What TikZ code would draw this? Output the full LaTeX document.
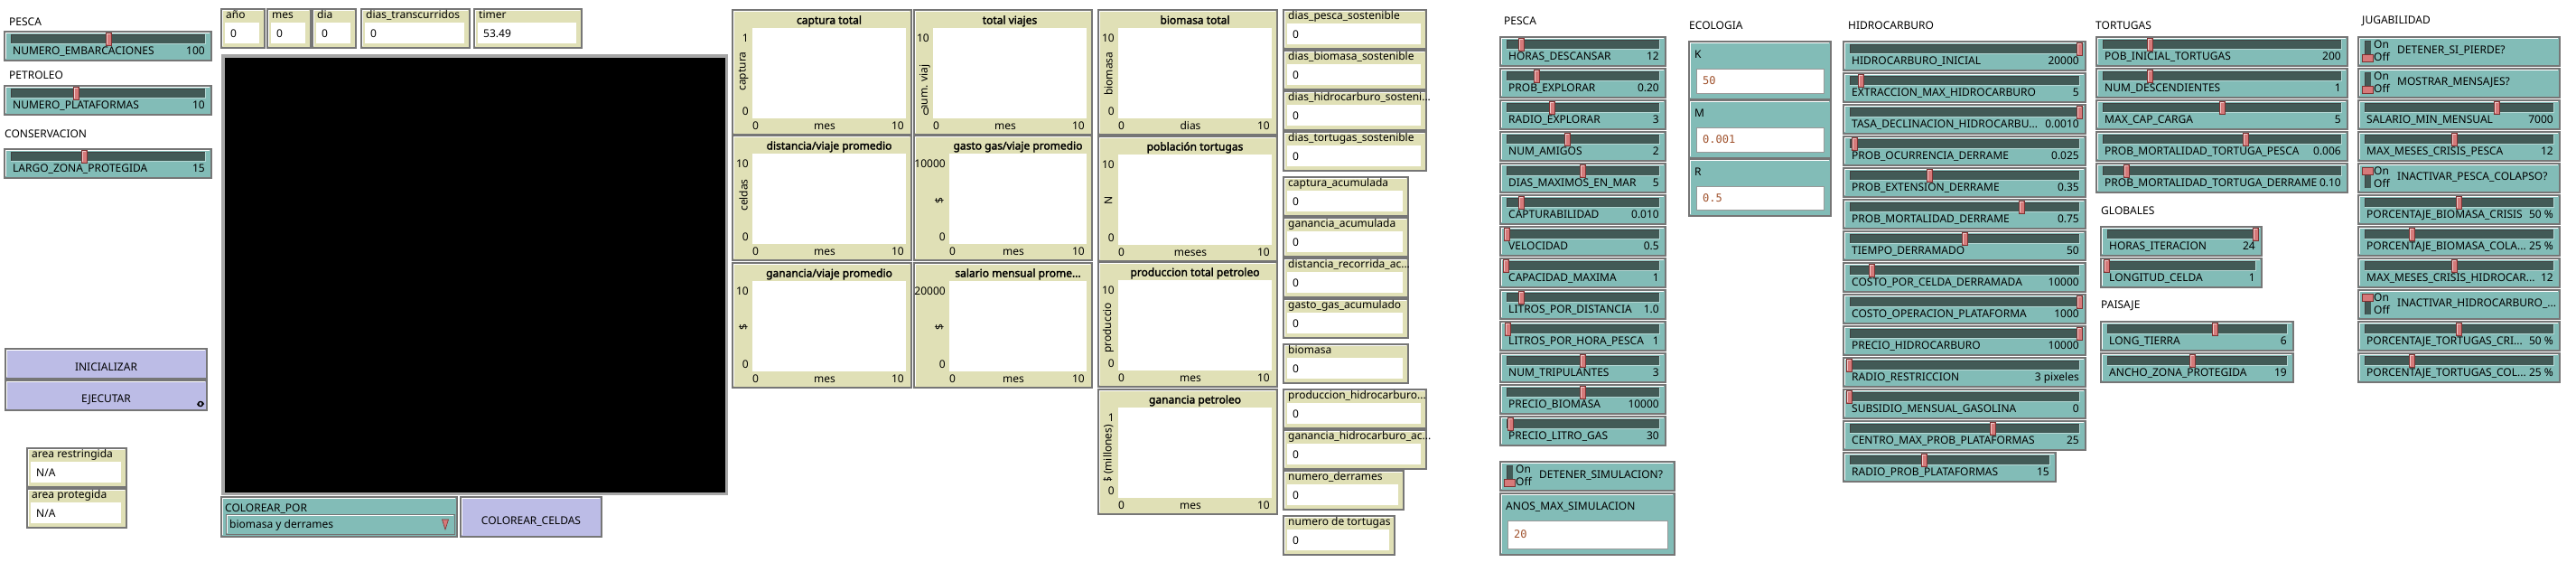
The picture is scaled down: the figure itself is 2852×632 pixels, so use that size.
\documentclass[tikz,border=0pt]{standalone}
\usepackage{fontspec}
\setmainfont{Noto Sans}
\newfontfamily\ttlf{Noto Sans}[FakeBold=2.2]
\newfontfamily\monof{DejaVu Sans Mono}
\usetikzlibrary{calc}
\definecolor{tealw}{RGB}{130,188,183}
\definecolor{trackc}{RGB}{66,90,86}
\definecolor{thumbc}{RGB}{214,122,122}
\definecolor{thumbd}{RGB}{125,50,50}
\definecolor{beige}{RGB}{224,224,182}
\definecolor{lav}{RGB}{188,188,230}
\definecolor{bord}{RGB}{118,118,118}
\definecolor{inval}{RGB}{160,82,45}
\tikzset{
  txt/.style={inner sep=0pt, font=\fontsize{12}{14}\selectfont, text=black},
  ttl/.style={inner sep=0pt, font=\fontsize{12}{14}\selectfont\ttlf, text=black},
  monotxt/.style={inner sep=0pt, font=\fontsize{12}{14}\selectfont\monof, text=inval},
}
% bevelled widget box
\newcommand\bevbox[5]{%
  \fill[#5] (#1,#2) rectangle (#3,#4);
  \draw[white, line width=1pt] (#1+1.6,#4-1.6) -- (#1+1.6,#2+1.6) -- (#3-1.6,#2+1.6);
  \draw[bord, line width=1.2pt] (#1,#2) rectangle (#3,#4);
}
% slider: x1 y1 x2 thumbx label value
\newcommand\slid[6]{%
  \bevbox{#1}{#2}{#3}{#2+32}{tealw}
  \fill[trackc] (#1+7,#2+3) rectangle (#3-7,#2+13);
  \draw[black!75, line width=0.8pt] (#1+7,#2+13) -- (#1+7,#2+3) -- (#3-7,#2+3);
  \draw[tealw!60!white, line width=0.6pt] (#1+7,#2+13) -- (#3-7,#2+13) -- (#3-7,#2+3);
  \filldraw[fill=thumbc, draw=thumbd, line width=0.7pt] (#4-3,#2+1) rectangle (#4+3,#2+15);
  \draw[white!60!thumbc, line width=0.6pt] (#4-2,#2+14) -- (#4-2,#2+2) -- (#4+2,#2+2);
  \node[txt, anchor=base west] at (#1+9,#2+25) {#5};
  \node[txt, anchor=base east] at (#3-7,#2+25) {#6};
}
% switch: x1 y1 x2 label on(1)/off(0)
\newcommand\swi[5]{%
  \bevbox{#1}{#2}{#3}{#2+32}{tealw}
  \fill[trackc] (#1+7,#2+4) rectangle (#1+14,#2+27);
  \draw[black!75, line width=0.7pt] (#1+7,#2+27) -- (#1+7,#2+4) -- (#1+14,#2+4);
  \ifnum#5=1
    \filldraw[fill=thumbc, draw=thumbd, line width=0.7pt] (#1+4,#2+4) rectangle (#1+16,#2+12);
  \else
    \filldraw[fill=thumbc, draw=thumbd, line width=0.7pt] (#1+4,#2+19) rectangle (#1+16,#2+27);
  \fi
  \node[txt, anchor=west] at (#1+17,#2+8.5) {On};
  \node[txt, anchor=west] at (#1+17,#2+22) {Off};
  \node[txt, anchor=base west] at (#1+43,#2+18.5) {#4};
}
% monitor: x1 y1 x2 label value
\newcommand\moni[5]{%
  \bevbox{#1}{#2}{#3}{#2+43}{beige}
  \fill[white] (#1+4,#2+15) rectangle (#3-6,#2+38);
  \node[txt, anchor=base west] at (#1+5,#2+10) {#4};
  \node[txt, anchor=base west] at (#1+10,#2+31) {#5};
}
% input: x1 y1 x2 y2 label value
\newcommand\inp[6]{%
  \bevbox{#1}{#2}{#3}{#4}{tealw}
  \node[txt, anchor=base west] at (#1+6,#2+18) {#5};
  \filldraw[fill=white, draw=black!40, line width=0.8pt] (#1+8,#2+30) rectangle (#3-8,#4-7);
  \node[monotxt, anchor=base west] at (#1+15,{(#2+30+#4-7)/2+4}) {#6};
}
% button: x1 y1 x2 y2 label
\newcommand\btn[5]{%
  \bevbox{#1}{#2}{#3}{#4}{lav}
  \node[txt, anchor=base] at ({(#1+#3)/2},{(#2+#4)/2+8}) {#5};
}
% plot: x1 y1 x2 wl title ymax xname
\newcommand\plt[7]{%
  \bevbox{#1}{#2}{#3}{#2+138}{beige}
  \fill[white] (#4,#2+20) rectangle (#3-6,#2+120);
  \node[ttl, anchor=base] at ({(#4+#3-6)/2},#2+15.5) {#5};
  \node[txt, anchor=east] at (#4-4,#2+31) {#6};
  \node[txt, anchor=east] at (#4-4,#2+112) {0};
  \node[txt, anchor=base west] at (#4,#2+132) {0};
  \node[txt, anchor=base] at ({(#4+#3-6)/2-5},#2+132) {#7};
  \node[txt, anchor=base east] at (#3-8,#2+132) {10};
}
\begin{document}
\begin{tikzpicture}[x=1pt,y=-1pt]
\useasboundingbox (0,0) rectangle (2852,632);
\fill[white] (0,0) rectangle (2852,632);

% ---------------- left column
\node[txt, anchor=west] (hPesca1) at (10,24) {PESCA};
\slid{5}{35}{234}{120}{NUMERO\_EMBARCACIONES}{100}
\node[txt, anchor=west] (hPetro) at (10,83) {PETROLEO};
\slid{5}{95}{234}{84}{NUMERO\_PLATAFORMAS}{10}
\node[txt, anchor=west] (hCons) at (5,148) {CONSERVACION};
\slid{5}{165}{234}{93}{LARGO\_ZONA\_PROTEGIDA}{15}

\btn{6}{386}{229}{419}{INICIALIZAR}
\btn{6}{421}{229}{454}{EJECUTAR}
\draw[line width=1.3pt] (222,447) circle (2.6);
\fill (224.6,444.5) -- (226.2,447.5) -- (223,447.5) -- cycle;
\fill (219.4,449.5) -- (217.8,446.5) -- (221,446.5) -- cycle;

\moni{30}{496}{140}{area restringida}{N/A}
\moni{30}{541}{140}{area protegida}{N/A}

% ---------------- top monitors
\moni{245}{10}{293}{año}{0}
\moni{296}{10}{344}{mes}{0}
\moni{346}{10}{394}{dia}{0}
\moni{400}{10}{520}{dias\_transcurridos}{0}
\moni{525}{10}{644}{timer}{53.49}

% ---------------- world view
\fill[black!35] (245,60) rectangle (806,548);
\fill[black] (249,64) rectangle (803,545);

% chooser and button
\bevbox{245}{550}{506}{594}{tealw}
\node[txt, anchor=base west] (chLab) at (249,566) {COLOREAR\_POR};
\fill[tealw] (250,569) rectangle (503,591);
\draw[white, line width=0.8pt] (251,590) -- (251,570) -- (502,570);
\draw[black!55, line width=1pt] (250,569) rectangle (503,591);
\node[txt, anchor=base west] (chVal) at (254,584) {biomasa y derrames};
\filldraw[fill=thumbc, draw=thumbd, line width=0.6pt] (489.5,575) -- (496.5,575) -- (493,586) -- cycle;
\btn{510}{550}{666}{594}{COLOREAR\_CELDAS}

% ---------------- plots
\plt{811}{11}{1009}{833}{captura total}{1}{mes}
\node[txt, rotate=90] (yl1) at (823,79) {captura};
\plt{1012}{11}{1209}{1033}{total viajes}{10}{mes}
\begin{scope}
  \clip (1012,40) rectangle (1031,119);
  \node[txt, rotate=90, anchor=west] (yl2) at (1024,124) {num. viaj};
\end{scope}
\plt{811}{150}{1009}{833}{distancia/viaje promedio}{10}{mes}
\node[txt, rotate=90] (yl3) at (823,216) {celdas};
\plt{1012}{150}{1209}{1051}{gasto gas/viaje promedio}{10000}{mes}
\node[txt, rotate=90] (yl4) at (1040,222) {\$};
\plt{811}{291}{1009}{833}{ganancia/viaje promedio}{10}{mes}
\node[txt, rotate=90] (yl5) at (823,362) {\$};
\plt{1012}{291}{1209}{1051}{salario mensual prome...}{20000}{mes}
\node[txt, rotate=90] (yl6) at (1040,362) {\$};

\plt{1216}{11}{1414}{1238}{biomasa total}{10}{dias}
\begin{scope}
  \clip (1216,56) rectangle (1236,131);
  \node[txt, rotate=90, anchor=west] (yl7) at (1227,106) {biomasa};
\end{scope}
\plt{1216}{151}{1414}{1238}{población tortugas}{10}{meses}
\node[txt, rotate=90] (yl8) at (1227,222) {N};
\plt{1216}{290}{1414}{1238}{produccion total petroleo}{10}{mes}
\begin{scope}
  \clip (1216,334) rectangle (1236,411);
  \node[txt, rotate=90, anchor=west] (yl9) at (1227,391) {produccion};
\end{scope}
\plt{1216}{431}{1414}{1238}{ganancia petroleo}{1}{mes}
\begin{scope}
  \clip (1216,468) rectangle (1236,531);
  \node[txt, rotate=90, anchor=west] (yl10) at (1227,535) {\$ (millones)};
\end{scope}

% ---------------- monitors column
\moni{1421}{11}{1579}{dias\_pesca\_sostenible}{0}
\moni{1421}{56}{1579}{dias\_biomasa\_sostenible}{0}
\moni{1421}{101}{1579}{dias\_hidrocarburo\_sosteni...}{0}
\moni{1421}{146}{1579}{dias\_tortugas\_sostenible}{0}
\moni{1421}{196}{1559}{captura\_acumulada}{0}
\moni{1421}{241}{1559}{ganancia\_acumulada}{0}
\moni{1421}{286}{1559}{distancia\_recorrida\_ac...}{0}
\moni{1421}{331}{1559}{gasto\_gas\_acumulado}{0}
\moni{1421}{381}{1559}{biomasa}{0}
\moni{1421}{431}{1579}{produccion\_hidrocarburo...}{0}
\moni{1421}{476}{1579}{ganancia\_hidrocarburo\_ac...}{0}
\moni{1421}{521}{1554}{numero\_derrames}{0}
\moni{1421}{571}{1544}{numero de tortugas}{0}

% ---------------- PESCA
\node[txt, anchor=west] (hPesca2) at (1665,23) {PESCA};
\slid{1661}{41}{1844}{1684}{HORAS\_DESCANSAR}{12}
\slid{1661}{76}{1844}{1701}{PROB\_EXPLORAR}{0.20}
\slid{1661}{111}{1844}{1718}{RADIO\_EXPLORAR}{3}
\slid{1661}{146}{1844}{1735}{NUM\_AMIGOS}{2}
\slid{1661}{181}{1844}{1752}{DIAS\_MAXIMOS\_EN\_MAR}{5}
\slid{1661}{216}{1844}{1684}{CAPTURABILIDAD}{0.010}
\slid{1661}{251}{1844}{1668}{VELOCIDAD}{0.5}
\slid{1661}{286}{1844}{1667}{CAPACIDAD\_MAXIMA}{1}
\slid{1661}{321}{1844}{1684}{LITROS\_POR\_DISTANCIA}{1.0}
\slid{1661}{356}{1844}{1669}{LITROS\_POR\_HORA\_PESCA}{1}
\slid{1661}{391}{1844}{1752}{NUM\_TRIPULANTES}{3}
\slid{1661}{426}{1844}{1752}{PRECIO\_BIOMASA}{10000}
\slid{1661}{461}{1844}{1672}{PRECIO\_LITRO\_GAS}{30}
\swi{1661}{511}{1854}{DETENER\_SIMULACION?}{0}
\inp{1661}{546}{1854}{614}{ANOS\_MAX\_SIMULACION}{20}

% ---------------- ECOLOGIA
\node[txt, anchor=west] (hEco) at (1870,28) {ECOLOGIA};
\inp{1870}{46}{2027}{110}{K}{50}
\inp{1870}{111}{2027}{175}{M}{0.001}
\inp{1870}{176}{2027}{239}{R}{0.5}

% ---------------- HIDROCARBURO
\node[txt, anchor=west] (hHid) at (2046,28) {HIDROCARBURO};
\slid{2041}{46}{2309}{2302}{HIDROCARBURO\_INICIAL}{20000}
\slid{2041}{81}{2309}{2060}{EXTRACCION\_MAX\_HIDROCARBURO}{5}
\slid{2041}{116}{2309}{2302}{TASA\_DECLINACION\_HIDROCARBU...}{0.0010}
\slid{2041}{151}{2309}{2053}{PROB\_OCURRENCIA\_DERRAME}{0.025}
\slid{2041}{186}{2309}{2136}{PROB\_EXTENSION\_DERRAME}{0.35}
\slid{2041}{221}{2309}{2238}{PROB\_MORTALIDAD\_DERRAME}{0.75}
\slid{2041}{256}{2309}{2175}{TIEMPO\_DERRAMADO}{50}
\slid{2041}{291}{2309}{2072}{COSTO\_POR\_CELDA\_DERRAMADA}{10000}
\slid{2041}{326}{2309}{2302}{COSTO\_OPERACION\_PLATAFORMA}{1000}
\slid{2041}{361}{2309}{2302}{PRECIO\_HIDROCARBURO}{10000}
\slid{2041}{396}{2309}{2047}{RADIO\_RESTRICCION}{3 pixeles}
\slid{2041}{431}{2309}{2047}{SUBSIDIO\_MENSUAL\_GASOLINA}{0}
\slid{2041}{466}{2309}{2206}{CENTRO\_MAX\_PROB\_PLATAFORMAS}{25}
\slid{2041}{501}{2276}{2130}{RADIO\_PROB\_PLATAFORMAS}{15}

% ---------------- TORTUGAS
\node[txt, anchor=west] (hTor) at (2320,28) {TORTUGAS};
\slid{2321}{41}{2599}{2380}{POB\_INICIAL\_TORTUGAS}{200}
\slid{2321}{76}{2599}{2380}{NUM\_DESCENDIENTES}{1}
\slid{2321}{111}{2599}{2460}{MAX\_CAP\_CARGA}{5}
\slid{2321}{146}{2599}{2486}{PROB\_MORTALIDAD\_TORTUGA\_PESCA}{0.006}
\slid{2321}{181}{2599}{2354}{PROB\_MORTALIDAD\_TORTUGA\_DERRAME}{0.10}

\node[txt, anchor=west] (hGlob) at (2326,233) {GLOBALES};
\slid{2326}{251}{2504}{2497}{HORAS\_ITERACION}{24}
\slid{2326}{286}{2504}{2332}{LONGITUD\_CELDA}{1}

\node[txt, anchor=west] (hPais) at (2326,338) {PAISAJE};
\slid{2326}{356}{2539}{2452}{LONG\_TIERRA}{6}
\slid{2326}{391}{2539}{2427}{ANCHO\_ZONA\_PROTEGIDA}{19}

% ---------------- JUGABILIDAD
\node[txt, anchor=west] (hJug) at (2615,23) {JUGABILIDAD};
\swi{2611}{41}{2834}{DETENER\_SI\_PIERDE?}{0}
\swi{2611}{76}{2834}{MOSTRAR\_MENSAJES?}{0}
\slid{2611}{111}{2834}{2764}{SALARIO\_MIN\_MENSUAL}{7000}
\slid{2611}{146}{2834}{2717}{MAX\_MESES\_CRISIS\_PESCA}{12}
\swi{2611}{181}{2834}{INACTIVAR\_PESCA\_COLAPSO?}{1}
\slid{2611}{216}{2834}{2722}{PORCENTAJE\_BIOMASA\_CRISIS}{50 \%}
\slid{2611}{251}{2834}{2670}{PORCENTAJE\_BIOMASA\_COLA...}{25 \%}
\slid{2611}{286}{2834}{2717}{MAX\_MESES\_CRISIS\_HIDROCAR...}{12}
\swi{2611}{321}{2834}{INACTIVAR\_HIDROCARBURO\_...}{1}
\slid{2611}{356}{2834}{2722}{PORCENTAJE\_TORTUGAS\_CRI...}{50 \%}
\slid{2611}{391}{2834}{2670}{PORCENTAJE\_TORTUGAS\_COL...}{25 \%}
\end{tikzpicture}
\end{document}
